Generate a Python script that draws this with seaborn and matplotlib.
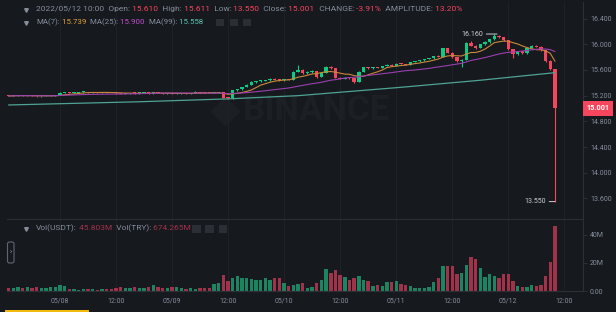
import numpy as np
import pandas as pd
import matplotlib
matplotlib.use("Agg")
import matplotlib.pyplot as plt
import matplotlib.dates as mdates
from matplotlib.ticker import FixedLocator, FuncFormatter
from matplotlib.patches import FancyBboxPatch, Rectangle
import seaborn as sns

# ---------------- data (hourly candles) ----------------
start_time = "2022-05-07 13:00"
first_open = 15.200
closes = [
    15.195, 15.200, 15.206, 15.198, 15.203, 15.195, 15.190, 15.196, 15.199, 15.202,
    15.207, 15.242, 15.252, 15.240, 15.246, 15.251, 15.256, 15.250, 15.253, 15.247,
    15.251, 15.245, 15.240, 15.236, 15.231, 15.234, 15.241, 15.236, 15.239, 15.243,
    15.236, 15.246, 15.238, 15.233, 15.236, 15.230, 15.234, 15.238, 15.233, 15.237,
    15.256, 15.247, 15.243, 15.240, 15.246, 15.252, 15.168, 15.160, 15.285, 15.300,
    15.335, 15.370, 15.405, 15.425, 15.432, 15.440, 15.462, 15.448, 15.440, 15.452,
    15.445, 15.570, 15.600, 15.552, 15.568, 15.580, 15.490, 15.560, 15.650, 15.630,
    15.480, 15.462, 15.478, 15.470, 15.415, 15.570, 15.640, 15.628, 15.642, 15.635,
    15.660, 15.685, 15.668, 15.700, 15.692, 15.684, 15.725, 15.738, 15.752, 15.770,
    15.782, 15.815, 15.806, 15.935, 15.870, 15.800, 15.740, 15.760, 16.020, 15.980,
    15.940, 16.000, 16.035, 16.075, 16.130, 16.112, 16.060, 15.920, 15.850, 15.890,
    15.862, 15.950, 15.975, 15.965, 15.910, 15.740, 15.610, 15.001]
highs = [
    15.205, 15.206, 15.210, 15.210, 15.208, 15.206, 15.199, 15.200, 15.204, 15.207,
    15.212, 15.250, 15.262, 15.258, 15.252, 15.258, 15.262, 15.260, 15.258, 15.257,
    15.256, 15.255, 15.249, 15.244, 15.240, 15.239, 15.246, 15.245, 15.244, 15.248,
    15.247, 15.252, 15.249, 15.242, 15.240, 15.239, 15.238, 15.242, 15.241, 15.241,
    15.265, 15.259, 15.250, 15.247, 15.251, 15.258, 15.255, 15.175, 15.292, 15.310,
    15.342, 15.378, 15.425, 15.433, 15.440, 15.448, 15.470, 15.468, 15.455, 15.460,
    15.458, 15.580, 15.680, 15.610, 15.578, 15.592, 15.585, 15.570, 15.665, 15.660,
    15.636, 15.490, 15.486, 15.485, 15.476, 15.580, 15.650, 15.648, 15.652, 15.650,
    15.668, 15.694, 15.692, 15.708, 15.706, 15.698, 15.732, 15.746, 15.760, 15.778,
    15.792, 15.824, 15.826, 15.945, 15.942, 15.878, 15.808, 15.772, 16.030, 16.050,
    15.990, 16.010, 16.045, 16.085, 16.160, 16.140, 16.120, 16.068, 15.930, 15.900,
    15.898, 15.960, 15.985, 15.990, 15.972, 15.918, 15.748, 15.611]
lows = [
    15.188, 15.190, 15.196, 15.192, 15.194, 15.188, 15.184, 15.186, 15.192, 15.195,
    15.198, 15.204, 15.238, 15.234, 15.236, 15.242, 15.246, 15.244, 15.246, 15.242,
    15.243, 15.240, 15.236, 15.231, 15.226, 15.227, 15.230, 15.232, 15.232, 15.235,
    15.232, 15.233, 15.234, 15.229, 15.229, 15.225, 15.226, 15.231, 15.229, 15.230,
    15.234, 15.243, 15.239, 15.236, 15.237, 15.242, 15.162, 15.148, 15.155, 15.278,
    15.295, 15.330, 15.365, 15.400, 15.418, 15.426, 15.436, 15.442, 15.432, 15.435,
    15.438, 15.440, 15.562, 15.545, 15.545, 15.560, 15.480, 15.485, 15.552, 15.620,
    15.470, 15.455, 15.455, 15.462, 15.400, 15.410, 15.565, 15.620, 15.622, 15.628,
    15.630, 15.655, 15.660, 15.662, 15.686, 15.676, 15.680, 15.720, 15.732, 15.746,
    15.764, 15.776, 15.798, 15.800, 15.862, 15.790, 15.730, 15.650, 15.752, 15.970,
    15.930, 15.935, 15.995, 16.028, 16.070, 16.100, 16.050, 15.910, 15.780, 15.840,
    15.850, 15.855, 15.945, 15.958, 15.900, 15.730, 15.600, 13.550]
vol_usdt_m = [
    2.4, 2.2, 2.6, 2.0, 2.5, 2.3, 2.7, 2.1, 2.4, 2.6,
    2.5, 4.3, 3.3, 1.3, 1.1, 1.0, 1.2, 1.1, 1.3, 1.0,
    1.2, 1.1, 1.4, 2.0, 2.6, 2.2, 1.9, 2.8, 2.4, 2.1,
    2.6, 4.3, 2.6, 2.2, 1.8, 2.5, 2.9, 2.3, 1.7, 2.0,
    1.6, 1.8, 2.1, 2.4, 5.2, 6.0, 11.4, 7.1, 9.5, 11.0,
    9.0, 9.5, 8.6, 8.1, 7.6, 9.0, 8.1, 9.5, 9.0, 6.0,
    3.3, 4.3, 4.8, 6.0, 2.4, 2.9, 5.7, 7.6, 15.5, 13.1,
    15.0, 11.4, 10.0, 7.6, 9.0, 11.0, 8.1, 7.1, 3.8, 4.3,
    3.8, 6.2, 6.2, 7.1, 4.8, 4.3, 3.3, 1.9, 2.4, 2.4,
    2.9, 6.2, 9.5, 18.1, 17.6, 18.1, 11.9, 13.1, 18.3, 24.3,
    22.4, 16.2, 10.0, 12.4, 10.7, 9.5, 12.4, 12.4, 7.1, 3.3,
    2.9, 2.9, 4.3, 3.3, 4.3, 11.0, 20.5, 45.803]
# MA(99) line, read at a few candles (history before the window is not visible)
ma99_idx = [0, 28, 47, 62, 84, 101, 117]
ma99_vals = [15.055, 15.105, 15.150, 15.200, 15.330, 15.440, 15.558]

price_ticks = [13.6, 14.0, 14.4, 14.8, 15.2, 15.6, 16.0, 16.4]
vol_ticks = [0, 20, 40]
vol_tick_labels = ["0.00", "20M", "40M"]

header_time = "2022/05/12 10:00"
change_txt = "-3.91%"
amplitude_txt = "13.20%"
ma_names = ["MA(7):", "MA(25):", "MA(99):"]
ma_values_txt = ["15.739", "15.900", "15.558"]
vol_names = ["Vol(USDT):", "Vol(TRY):"]
vol_values_txt = ["45.803M", "674.265M"]
watermark = "BINANCE"

# ---------------- style ----------------
BG = "#16191e"
GRID = "#1f2328"
AXC = "#2b2f36"
TXT = "#848e9c"
GREEN = "#0ecb81"
RED = "#f6465d"
VGREEN = "#1c8460"
VRED = "#a0334a"
C_MA7 = "#e0a03c"
C_MA25 = "#c04fd0"
C_MA99 = "#5cc4b2"
L_MA7 = "#c88a3a"
L_MA25 = "#9a3fb0"
L_MA99 = "#4fa394"

sns.set_theme(style="dark")
plt.rcParams["font.family"] = ["Roboto", "DejaVu Sans"]
plt.rcParams["axes.facecolor"] = BG
plt.rcParams["figure.facecolor"] = BG

W, H = 616, 312
fig = plt.figure(figsize=(W / 100, H / 100), dpi=100, facecolor=BG)


def px_axes(x0, y0, x1, y1, **kw):
    return fig.add_axes([x0 / W, 1 - y1 / H, (x1 - x0) / W, (y1 - y0) / H], **kw)


ax = px_axes(7, 2, 583, 219)
axv = px_axes(7, 220, 583, 291)
axo = px_axes(0, 0, W, H, zorder=10)
axo.set_xlim(0, W)
axo.set_ylim(H, 0)
axo.axis("off")
axo.patch.set_visible(False)

times = pd.date_range(start_time, periods=len(closes), freq="h")
xn = mdates.date2num(times)
hr = 1.0 / 24
c = np.array(closes)
o = np.array([first_open] + closes[:-1])
hi = np.array(highs)
lo = np.array(lows)
vol = np.array(vol_usdt_m)
up = c >= o
cols = np.where(up, GREEN, RED)
vcols = np.where(up, VGREEN, VRED)

df = pd.DataFrame({"t": xn, "close": c})
df["ma7"] = df["close"].rolling(7, min_periods=1).mean()
df["ma25"] = df["close"].rolling(25, min_periods=1).mean()

for a in (ax, axv):
    a.set_facecolor(BG)
    a.set_xlim(xn[0] - 0.34 * hr, xn[0] + 123 * hr)
    a.xaxis.set_major_locator(mdates.HourLocator(byhour=[0, 12]))
    a.grid(axis="x", color=GRID, lw=0.7)
    a.grid(axis="y", visible=False)
    for s in a.spines.values():
        s.set_color(AXC)
        s.set_linewidth(0.8)
    a.spines["left"].set_visible(False)

# watermark (behind candles)
ax.text(243, 111, watermark, transform=axo.transData, fontsize=25, fontweight="bold",
        color="#1c1f24", va="center", ha="left", zorder=0.5)
ax.plot([225], [111], marker="D", markersize=14, color="#1c1f24", transform=axo.transData,
        zorder=0.5, clip_on=False)

# candles
body_bot = np.minimum(o, c)
body_h = np.maximum(np.abs(c - o), 0.014)
ax.vlines(xn, lo, hi, colors=cols, linewidth=0.8, zorder=2)
ax.bar(xn, body_h, bottom=body_bot, width=0.72 * hr, color=cols, linewidth=0, zorder=2)

# moving averages
sns.lineplot(x=df["t"], y=df["ma7"], ax=ax, color=L_MA7, linewidth=0.8, zorder=3)
sns.lineplot(x=df["t"], y=df["ma25"], ax=ax, color=L_MA25, linewidth=0.8, zorder=3)
sns.lineplot(x=xn[ma99_idx], y=ma99_vals, ax=ax, color=L_MA99, linewidth=0.9, zorder=3)
ax.set_xlabel("")
ax.set_ylabel("")

ax.set_ylim(16.0 - (219 - 44.3) / 64.2, 16.0 + (44.3 - 2) / 64.2)
ax.yaxis.tick_right()
ax.yaxis.set_major_locator(FixedLocator(price_ticks))
ax.yaxis.set_major_formatter(FuncFormatter(lambda v, p: f"{v:.3f}"))
ax.tick_params(axis="y", colors=AXC, labelcolor=TXT, labelsize=5, length=3, width=0.7, pad=2)
ax.tick_params(axis="x", length=0, labelbottom=False)
ax.spines["top"].set_visible(False)

# high / low annotations
i_hi = int(np.argmax(hi))
i_lo = int(np.argmin(lo))
ax.annotate(f"{hi[i_hi]:.3f}", xy=(xn[i_hi] + 0.6 * hr, hi[i_hi]), xytext=(-14, 0),
            textcoords="offset pixels", ha="right", va="center", color="#c9ced6", fontsize=5,
            arrowprops=dict(arrowstyle="-", color="#c9ced6", lw=0.7, shrinkA=0, shrinkB=0),
            zorder=5)
ax.annotate(f"{lo[i_lo]:.3f}", xy=(xn[i_lo], lo[i_lo]), xytext=(-9, 0),
            textcoords="offset pixels", ha="right", va="center", color="#c9ced6", fontsize=5,
            arrowprops=dict(arrowstyle="-", color="#c9ced6", lw=0.7, shrinkA=0, shrinkB=0),
            zorder=5)

# last price tag
ax.text(1.006, c[-1], f"{c[-1]:.3f}", transform=ax.get_yaxis_transform(), ha="left", va="center",
        color="white", fontsize=5.2, fontweight="bold", clip_on=False, zorder=6,
        bbox=dict(boxstyle="square,pad=0.45", fc=RED, ec="none"))

# volume
axv.bar(xn, vol, width=0.72 * hr, color=vcols, linewidth=0, zorder=2)
axv.set_ylim(0, 50.4)
axv.yaxis.tick_right()
axv.yaxis.set_major_locator(FixedLocator(vol_ticks))
axv.set_yticklabels(vol_tick_labels)
axv.tick_params(axis="y", colors=AXC, labelcolor=TXT, labelsize=5, length=3, width=0.7, pad=2)
axv.spines["top"].set_visible(False)


def xfmt(v, p):
    d = mdates.num2date(v)
    return d.strftime("%m/%d") if d.hour == 0 else d.strftime("%H:%M")


axv.xaxis.set_major_formatter(FuncFormatter(xfmt))
axv.tick_params(axis="x", colors=AXC, labelcolor=TXT, labelsize=5, length=3, width=0.7, pad=2)
ax.set_xlabel("")
axv.set_xlabel("")

# ---------------- header texts ----------------


def chain(x, y, parts, size):
    t = axo.text(x, y, parts[0][0], color=parts[0][1], fontsize=size, va="center", ha="left")
    for s, col in parts[1:]:
        t = axo.annotate(s, xy=(1, 0.5), xycoords=t, va="center", ha="left", color=col, fontsize=size)
    return t


chain(36, 9, [(f"{header_time}  Open:", TXT), (f" {o[-1]:.3f}", RED),
              ("  High:", TXT), (f" {hi[-1]:.3f}", RED),
              ("  Low:", TXT), (f" {lo[-1]:.3f}", RED),
              ("  Close:", TXT), (f" {c[-1]:.3f}", RED),
              ("  CHANGE:", TXT), (f" {change_txt}", RED),
              ("  AMPLITUDE:", TXT), (f" {amplitude_txt}", RED)], size=6.05)
chain(36, 22, [(ma_names[0], TXT), (" " + ma_values_txt[0], C_MA7),
               ("  " + ma_names[1], TXT), (" " + ma_values_txt[1], C_MA25),
               ("  " + ma_names[2], TXT), (" " + ma_values_txt[2], C_MA99)], size=5.7)
chain(36, 228, [(vol_names[0], TXT), (" " + vol_values_txt[0], VRED),
                ("  " + vol_names[1], TXT), (" " + vol_values_txt[1], VRED)], size=6.0)

for yy in (9.5, 22.5, 228.5):
    axo.plot([26], [yy], marker="v", markersize=2.6, color=TXT, linestyle="none")
for xx in (216, 229.5, 243):
    axo.add_patch(Rectangle((xx, 18.5), 8, 7.5, color="#2a2e35", lw=0))
for xx in (192, 205, 218.5):
    axo.add_patch(Rectangle((xx, 224.5), 8.5, 8, color="#2a2e35", lw=0))

# side button and tab highlight
axo.add_patch(FancyBboxPatch((7.5, 242), 6.5, 21, boxstyle="round,pad=0,rounding_size=2",
                             fc="none", ec="#5e6673", lw=0.8))
axo.text(10.8, 252.5, "›", color="#aab0b8", fontsize=5, ha="center", va="center")
axo.add_patch(Rectangle((5, 309.5), 84, 2.5, color="#f0b90b", lw=0))

fig.savefig("out.png", dpi=100, facecolor=BG)
